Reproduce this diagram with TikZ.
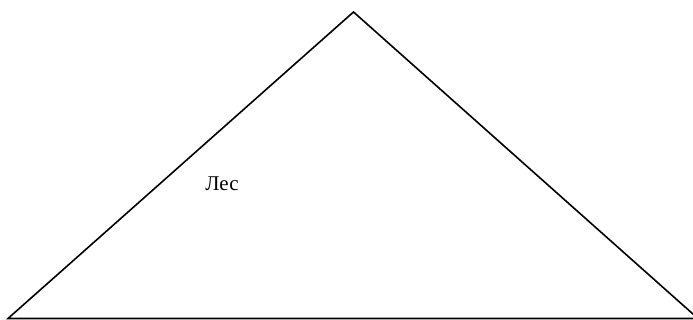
\documentclass[tikz,border=0pt]{standalone}
\usepackage{fontspec}
\setmainfont{Liberation Serif}
\usetikzlibrary{positioning}

\begin{document}
\begin{tikzpicture}[x=1pt, y=-1pt, line width=1.6pt,
  forestlabel/.style={font=\fontsize{21}{25}\selectfont, inner sep=0pt}]
  \useasboundingbox (0,0) rectangle (693,320);
  \clip (0,0) rectangle (693,320);
  % vertices of the triangle
  \coordinate (left) at (8,318.5);
  \coordinate (apex) at (353.5,12);
  \coordinate (right) at (698,318.5);
  \draw[line join=miter] (left) -- (apex) -- (right) -- cycle;
  \node[forestlabel] (les) at (222,184) {Лес};
\end{tikzpicture}
\end{document}
